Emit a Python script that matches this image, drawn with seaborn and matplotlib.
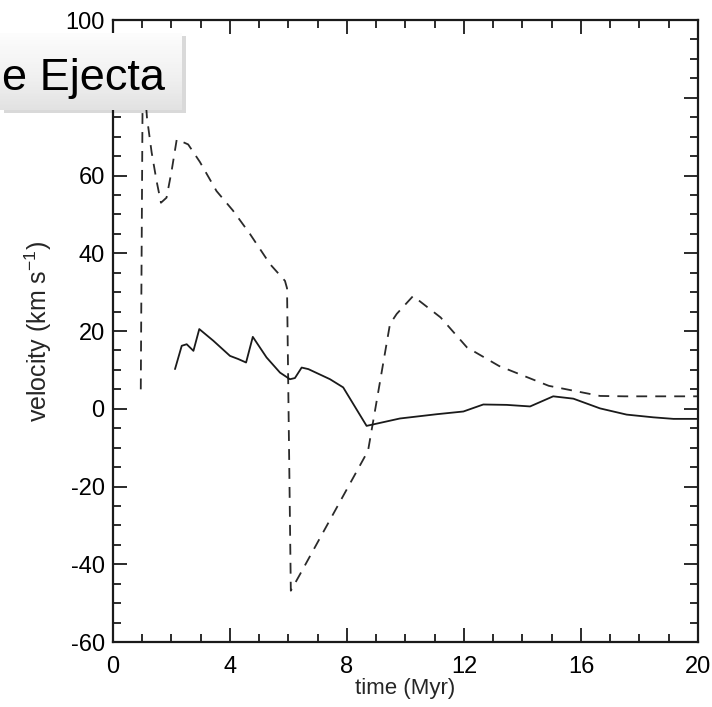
import matplotlib
matplotlib.use("Agg")
import matplotlib.pyplot as plt
import numpy as np
import pandas as pd
import seaborn as sns
from matplotlib.ticker import MultipleLocator

# dashed curve
dash_time = [0.95, 1.02, 1.16, 1.32, 1.49, 1.64, 1.83, 2.0, 2.18, 2.57, 2.97, 3.54,
             4.1, 4.68, 5.37, 5.88, 5.95, 6.08, 6.4, 8.72, 8.9, 9.47, 9.7, 10.26,
             11.2, 12.1, 13.2, 14.9, 16.65, 17.5, 20.0]
dash_vel = [5, 90, 75, 66, 58.6, 53, 54.3, 61, 69.3, 68, 63.5, 56,
            51, 45, 37.2, 32.9, 31, -46.8, -42.5, -10.8, -3, 21.8, 24.4, 29,
            23.5, 15.8, 11, 5.9, 3.3, 3.2, 3.2]

# solid curve
solid_time = [2.12, 2.35, 2.52, 2.75, 2.95, 3.43, 4.0, 4.28, 4.55, 4.78, 5.25, 5.71,
              6.05, 6.22, 6.45, 6.68, 7.42, 7.87, 8.67, 9.81, 11.07, 11.98, 12.66,
              13.46, 14.26, 15.05, 15.74, 16.65, 17.56, 18.47, 19.16, 20.0]
solid_vel = [10.2, 16.2, 16.6, 14.9, 20.5, 17.5, 13.6, 12.8, 11.9, 18.5, 13.2, 9.3,
             7.6, 7.9, 10.6, 10.2, 7.6, 5.5, -4.4, -2.5, -1.4, -0.7, 1.1,
             1.0, 0.6, 3.2, 2.6, 0.1, -1.5, -2.2, -2.6, -2.6]

banner_text = "e Ejecta"

sns.set_style("ticks")
plt.rcParams['font.family'] = ['Liberation Sans', 'DejaVu Sans']
plt.rcParams['mathtext.default'] = 'regular'
plt.rcParams['axes.unicode_minus'] = False
plt.rcParams['text.color'] = 'black'
plt.rcParams['xtick.labelcolor'] = 'black'
plt.rcParams['ytick.labelcolor'] = 'black'

fig = plt.figure(figsize=(7.12, 7.07), dpi=100)
ax = fig.add_axes([0.1587, 0.0919, 0.8216, 0.8798])

sns.lineplot(x=dash_time, y=dash_vel, ax=ax, color="#2a2a2a", lw=1.3,
             estimator=None, sort=False)
ax.lines[-1].set_dashes((6, 4.5))
sns.lineplot(x=solid_time, y=solid_vel, ax=ax, color="#1a1a1a", lw=1.3,
             estimator=None, sort=False)

ax.set_xlim(0, 20)
ax.set_ylim(-60, 100)
ax.xaxis.set_major_locator(MultipleLocator(4))
ax.xaxis.set_minor_locator(MultipleLocator(1))
ax.yaxis.set_major_locator(MultipleLocator(20))
ax.yaxis.set_minor_locator(MultipleLocator(5))
ax.tick_params(which='both', direction='in', top=True, right=True,
               color='#1a1a1a', width=1.3)
ax.tick_params(which='major', length=10, labelsize=17)
ax.tick_params(axis='x', which='major', pad=10)
ax.tick_params(axis='y', which='major', pad=6)
ax.tick_params(which='minor', length=6)
for s in ax.spines.values():
    s.set_linewidth(1.6)
    s.set_color('#1a1a1a')

ax.set_xlabel("time (Myr)", fontsize=16, labelpad=0)
ax.set_ylabel("velocity (km s$^{-1}$)", fontsize=18, labelpad=8)

# banner box with shadow
shadow = fig.add_axes([0.005, 0.8395, 0.2556, 0.1089])
shadow.set_facecolor('#000000')
shadow.patch.set_alpha(0.15)
shadow.set_xticks([])
shadow.set_yticks([])
for s in shadow.spines.values():
    s.set_visible(False)

box = fig.add_axes([0.0, 0.8444, 0.2556, 0.1089])
grad = np.linspace(0.02, 0.2, 64).reshape(-1, 1)
box.imshow(grad, aspect='auto', cmap='Greys', vmin=0, vmax=1, extent=[0, 1, 0, 1],
           origin='upper')
box.set_axis_off()

fig.text(165 / 712, 1 - 90 / 707, banner_text, ha='right', va='baseline',
         fontsize=32.5, color='black')

fig.savefig("out.png", dpi=100)
